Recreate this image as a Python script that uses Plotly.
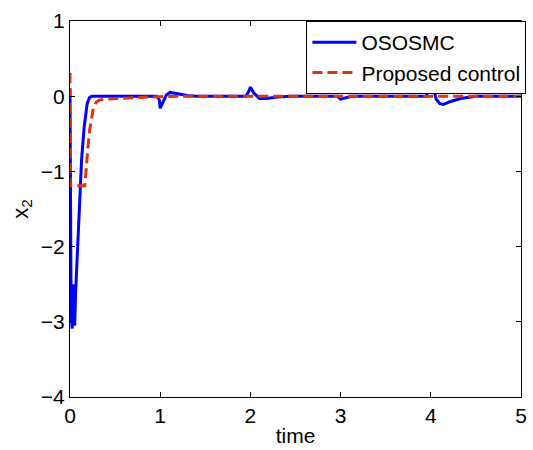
import plotly.graph_objects as go

# OSOSMC response: time samples and x2 values
t_ososmc = [0.0, 0.004, 0.01, 0.018, 0.025, 0.032, 0.04, 0.046, 0.052, 0.062,
            0.084, 0.102, 0.128, 0.157, 0.19, 0.215, 0.24, 0.96, 0.99,
            1.0, 1.03, 1.07, 1.11, 1.2, 1.3, 1.4, 1.95, 1.98, 2.0,
            2.04, 2.1, 2.18, 2.3, 2.45, 2.96, 3.0, 3.05, 3.12, 3.95,
            3.98, 4.01, 4.06, 4.1, 4.14, 4.22, 4.33, 4.5, 5.0]
x2_ososmc = [0.1, -1.2, -2.4, -3.0, -3.09, -2.6, -2.5, -2.9, -3.05, -2.62,
             -2.0, -1.38, -0.85, -0.41, -0.1, -0.02, 0.0, 0.0, -0.05,
             -0.16, -0.08, 0.02, 0.05, 0.03, 0.01, 0.0, 0.0, 0.06, 0.12,
             0.04, -0.03, -0.03, -0.01, 0.0, 0.0, -0.04, -0.02, 0.0, 0.0,
             0.12, 0.2, -0.04, -0.1, -0.11, -0.07, -0.03, 0.0, 0.0]

# Proposed control response
t_proposed = [0.0, 0.001, 0.164, 0.18, 0.2, 0.218, 0.237, 0.26, 0.29, 0.33,
              0.38, 0.5, 0.7, 0.9, 1.2, 5.0]
x2_proposed = [0.31, -1.19, -1.19, -1.0, -0.67, -0.45, -0.28, -0.15, -0.08, -0.05,
               -0.04, -0.03, -0.02, -0.01, 0.0, 0.0]

x_ticks = [0, 1, 2, 3, 4, 5]
y_ticks = [-4, -3, -2, -1, 0, 1]

font_family = "Liberation Sans, Arial, sans-serif"

fig = go.Figure()
fig.add_trace(go.Scatter(
    x=t_ososmc, y=x2_ososmc, mode="lines", name="OSOSMC",
    line=dict(color="#0000ff", width=3),
))
fig.add_trace(go.Scatter(
    x=t_proposed, y=x2_proposed, mode="lines", name="Proposed control",
    line=dict(color="#dd3311", width=3, dash="10px,5px"),
))

axis_common = dict(
    showline=True, linecolor="black", linewidth=1, mirror="ticks",
    ticks="inside", ticklen=5, tickcolor="black", showgrid=False,
    zeroline=False, tickfont=dict(family=font_family, size=21, color="black"),
)

fig.update_layout(
    width=533, height=450,
    margin=dict(l=70, r=7, t=21, b=53),
    paper_bgcolor="white", plot_bgcolor="white",
    font=dict(family=font_family, size=21, color="black"),
    xaxis=dict(range=[0, 5], tickvals=x_ticks, **axis_common,
               title=dict(text="time", standoff=2,
                          font=dict(family=font_family, size=21))),
    yaxis=dict(range=[-4, 1], tickvals=y_ticks, **axis_common,
               title=dict(text="x<sub>2</sub>", standoff=6,
                          font=dict(family=font_family, size=22))),
    legend=dict(x=1.012, y=1.0, xanchor="right", yanchor="top",
                bgcolor="white", bordercolor="black", borderwidth=1,
                font=dict(family=font_family, size=21),
                tracegroupgap=0, itemwidth=44),
    showlegend=True,
)

fig.write_html("out.html")
